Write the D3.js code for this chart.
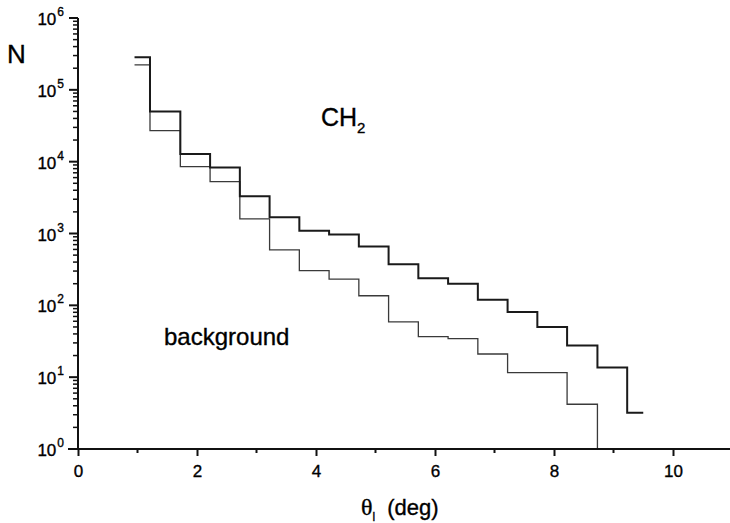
<!DOCTYPE html>
<html>
<head>
<meta charset="utf-8">
<script src="https://cdn.jsdelivr.net/npm/d3@7"></script>
<style>
    body { margin: 0; background: #fff; }
    text { font-family: "Liberation Sans", Arial, sans-serif; fill: #000; stroke: #000; stroke-width: 0.35px; }
</style>
</head>
<body>
<div id="graf"></div>
<script>
// rubovi binova (deg) i broj dogadaja po binu
const binEdges = [0.95, 1.21, 1.72, 2.22, 2.72, 3.22, 3.72, 4.22, 4.72, 5.22, 5.72, 6.22, 6.72, 7.22, 7.72, 8.22, 8.73, 9.23, 9.5];
const ch2Counts = [285000, 50000, 12800, 8300, 3300, 1690, 1090, 970, 657, 373, 238, 199, 120, 81, 50, 27.5, 13.6, 3.2];
const backgroundCounts = [223000, 27100, 8550, 5280, 1600, 591, 304, 231, 136, 58.7, 36.6, 34.4, 21, 11.6, 11.6, 4.2];
const xMajorTicks = [0, 2, 4, 6, 8, 10];
const xMinorTicks = [1, 3, 5, 7, 9];
const yExponents = [0, 1, 2, 3, 4, 5, 6];

function drawChart() {
    const dimenzije = {
        sirina: 730,
        visina: 523,
        lijevo: 78,
        desno: 732.5,
        vrh: 18,
        dno: 449,
    };

    const okvir = d3.select("#graf")
        .append("svg")
        .attr("width", dimenzije.sirina)
        .attr("height", dimenzije.visina);

    const xSkala = d3.scaleLinear()
        .domain([0, 11])
        .range([dimenzije.lijevo, dimenzije.desno]);

    const ySkala = d3.scaleLog()
        .domain([1, 1e6])
        .range([dimenzije.dno, dimenzije.vrh]);

    // stepenasta linija histograma
    const stepPath = (counts, dropToAxis) => {
        const p = d3.path();
        counts.forEach((c, i) => {
            const x0 = xSkala(binEdges[i]);
            const x1 = xSkala(binEdges[i + 1]);
            if (i === 0) p.moveTo(x0, ySkala(c));
            else p.lineTo(x0, ySkala(c));
            p.lineTo(x1, ySkala(c));
        });
        if (dropToAxis) p.lineTo(xSkala(binEdges[counts.length]), ySkala(1));
        return p.toString();
    };

    okvir.append("path")
        .attr("d", stepPath(backgroundCounts, true))
        .attr("fill", "none")
        .attr("stroke", "#3a3a3a")
        .attr("stroke-width", 1.3);

    okvir.append("path")
        .attr("d", stepPath(ch2Counts, false))
        .attr("fill", "none")
        .attr("stroke", "#1a1a1a")
        .attr("stroke-width", 2);

    // x os
    const xOs = okvir.append("g")
        .attr("transform", `translate(0, ${dimenzije.dno})`);

    xOs.call(d3.axisBottom(xSkala)
        .tickValues(xMajorTicks)
        .tickSize(7)
        .tickPadding(9)
        .tickFormat(d3.format("d")));

    xOs.selectAll(".minor")
        .data(xMinorTicks)
        .join("line")
        .attr("class", "minor")
        .attr("x1", d => xSkala(d))
        .attr("x2", d => xSkala(d))
        .attr("y1", 0)
        .attr("y2", 4)
        .attr("stroke", "#111")
        .attr("stroke-width", 2);

    xOs.select(".domain").remove();
    xOs.append("line")
        .attr("x1", 68)
        .attr("x2", dimenzije.sirina)
        .attr("stroke", "#111")
        .attr("stroke-width", 2);
    xOs.selectAll(".tick line").attr("stroke", "#111").attr("stroke-width", 2);
    xOs.selectAll(".tick text")
        .style("font-family", "'Liberation Sans', Arial, sans-serif")
        .style("font-size", "17px")
        .attr("fill", "#000");

    // y os (log)
    const yOs = okvir.append("g")
        .attr("transform", `translate(${dimenzije.lijevo}, 0)`);

    const minorVals = [];
    yExponents.slice(0, -1).forEach(e => {
        for (let k = 2; k <= 9; k++) minorVals.push(k * Math.pow(10, e));
    });

    yOs.selectAll(".minor")
        .data(minorVals)
        .join("line")
        .attr("class", "minor")
        .attr("x1", -5)
        .attr("x2", 0)
        .attr("y1", d => ySkala(d))
        .attr("y2", d => ySkala(d))
        .attr("stroke", "#111")
        .attr("stroke-width", 1.5);

    yOs.selectAll(".major")
        .data(yExponents)
        .join("line")
        .attr("class", "major")
        .attr("x1", -9)
        .attr("x2", 0)
        .attr("y1", d => ySkala(Math.pow(10, d)))
        .attr("y2", d => ySkala(Math.pow(10, d)))
        .attr("stroke", "#111")
        .attr("stroke-width", 2);

    yOs.append("line")
        .attr("y1", dimenzije.vrh)
        .attr("y2", dimenzije.dno)
        .attr("stroke", "#111")
        .attr("stroke-width", 2);

    const yOznake = yOs.selectAll(".ylab")
        .data(yExponents)
        .join("text")
        .attr("class", "ylab")
        .attr("x", -14)
        .attr("y", d => ySkala(Math.pow(10, d)) + 7)
        .attr("text-anchor", "end")
        .style("font-size", "17px");
    yOznake.append("tspan").text("10");
    yOznake.append("tspan")
        .attr("dx", 1)
        .attr("dy", -9)
        .style("font-size", "12px")
        .text(d => d);

    // naslovi osi i oznake
    okvir.append("text")
        .attr("x", 7)
        .attr("y", 63)
        .style("font-size", "26px")
        .text("N");

    const xNaslov = okvir.append("text")
        .attr("x", 361)
        .attr("y", 515)
        .style("font-size", "22px");
    xNaslov.append("tspan")
        .style("font-family", "'Liberation Serif', 'DejaVu Serif', serif")
        .style("font-size", "24px")
        .text("θ");
    xNaslov.append("tspan")
        .attr("dy", 6)
        .style("font-size", "12px")
        .text("l");
    xNaslov.append("tspan")
        .attr("dy", -6)
        .attr("dx", 12)
        .text("(deg)");

    const ch2 = okvir.append("text")
        .attr("x", 321)
        .attr("y", 126)
        .style("font-size", "25px");
    ch2.append("tspan").text("CH");
    ch2.append("tspan")
        .attr("dy", 7)
        .style("font-size", "15px")
        .text("2");

    okvir.append("text")
        .attr("x", 164)
        .attr("y", 345)
        .style("font-size", "24px")
        .text("background");
}

drawChart();
</script>
</body>
</html>
